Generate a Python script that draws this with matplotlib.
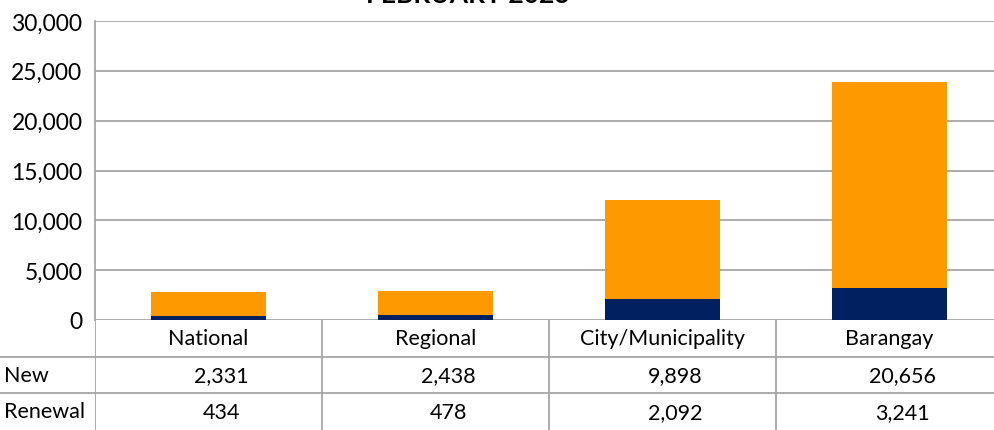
import matplotlib.pyplot as plt
from matplotlib.ticker import FuncFormatter
import matplotlib.transforms as mtransforms

categories = ['National', 'Regional', 'City/Municipality', 'Barangay']
new = [2331, 2438, 9898, 20656]
renewal = [434, 478, 2092, 3241]
row_labels = ['New', 'Renewal']

plt.rcParams['font.family'] = ['Lato', 'DejaVu Sans']

W, H = 994, 431
fig = plt.figure(figsize=(W / 100, H / 100), dpi=100)

grid_col = '#a6a6a6'
orange = '#ff9900'
navy = '#002060'

# bar area (in pixels: x from 95, width ~227 per category; y 22..321)
ax = fig.add_axes([95 / W, (H - 321) / H, 908 / W, 299 / H])
x = range(len(categories))
ax.bar(x, renewal, width=0.51, color=navy, zorder=3)
ax.bar(x, new, width=0.51, bottom=renewal, color=orange, zorder=3)
ax.set_xlim(-0.5, len(categories) - 0.5)
ax.set_ylim(0, 30000)
ax.set_yticks(range(0, 30001, 5000))
ax.yaxis.set_major_formatter(FuncFormatter(lambda v, p: f'{int(v):,}'))
ax.set_xticks([])
ax.tick_params(axis='y', length=0, pad=9, labelsize=16.5)
ax.grid(axis='y', color=grid_col, linewidth=1.3, zorder=0)
for s in ['top', 'right', 'bottom']:
    ax.spines[s].set_visible(False)
ax.spines['left'].set_color(grid_col)
ax.spines['left'].set_linewidth(1.3)

# data table below the bars
tab = fig.add_axes([95 / W, 0, 908 / W, (H - 321) / H])
tab.set_xlim(-0.5, len(categories) - 0.5)
tab.set_ylim(3, 0)
tab.axis('off')
for i in range(len(categories) + 1):
    tab.axvline(i - 0.5, color=grid_col, linewidth=1.3)
for r in [1, 2]:
    tab.plot([-0.5 - 95 / 227, len(categories) - 0.5], [r, r],
             color=grid_col, linewidth=1.3, clip_on=False)

shift = mtransforms.offset_copy(tab.transData, fig=fig, x=13, y=0, units='dots')
for i, c in enumerate(categories):
    tab.text(i, 0.5, c, ha='center', va='center', fontsize=15.5)
    tab.text(i, 1.5, f'{new[i]:,}', ha='center', va='center', fontsize=15.5, transform=shift)
    tab.text(i, 2.5, f'{renewal[i]:,}', ha='center', va='center', fontsize=15.5, transform=shift)
for r, lab in enumerate(row_labels):
    fig.text(4 / W, 1 - (376 + r * 36.5) / H, lab, ha='left', va='center', fontsize=15.5)

fig.text(468 / W, 1 - 3 / H, 'FEBRUARY 2023', ha='center', va='baseline',
         fontsize=19, fontweight='bold')

fig.savefig('out.png', dpi=100)
